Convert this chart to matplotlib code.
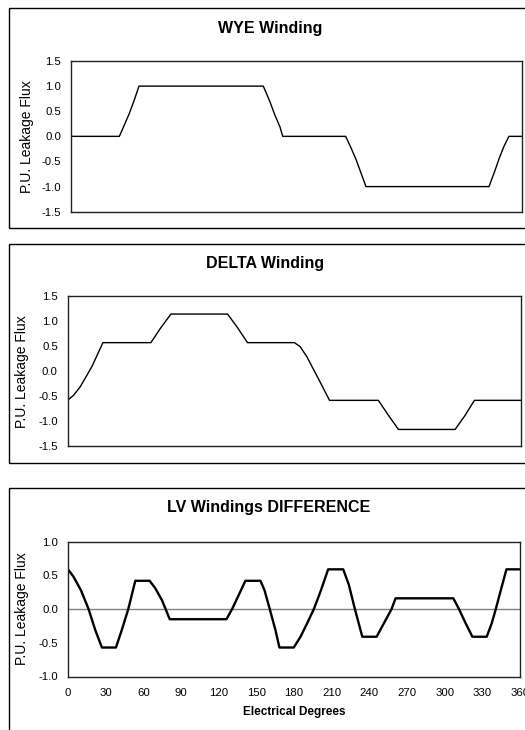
import matplotlib
matplotlib.use("Agg")
import matplotlib.pyplot as plt
from matplotlib.patches import Rectangle

plt.rcParams['font.family'] = ['Liberation Sans', 'DejaVu Sans']
plt.rcParams['axes.unicode_minus'] = False

# ---------------- data ----------------
wye_deg = [0, 38.6, 42.5, 46.5, 50.5, 54.3, 153.6, 158.9, 162.9, 166.9, 169.1,
           219.4, 223.5, 227.5, 231.5, 235.6, 333.9, 338.5, 342.3, 346.0, 349.8, 360]
wye_val = [0, 0, 0.22, 0.45, 0.72, 1.0, 1.0, 0.69, 0.42, 0.19, 0,
           0, -0.22, -0.45, -0.72, -1.0, -1.0, -0.69, -0.42, -0.19, 0, 0]

delta_deg = [0, 4.8, 10.1, 19.3, 28.1, 66.2, 73.6, 82.1, 127.0, 134.4, 142.9,
             180.2, 184.7, 190.0, 199.2, 208.0, 246.8, 254.8, 262.7, 307.7, 315.6, 323.0, 360]
delta_val = [-0.58, -0.48, -0.31, 0.09, 0.57, 0.57, 0.85, 1.14, 1.14, 0.89, 0.57,
             0.57, 0.49, 0.29, -0.15, -0.58, -0.58, -0.88, -1.16, -1.16, -0.88, -0.58, -0.58]

diff_deg = [0, 4.4, 10.3, 16.4, 21.7, 27.0, 38.2, 43.0, 48.0, 53.6, 65.0, 69.5, 74.9, 81.0,
            126.2, 130.7, 136.0, 141.3, 153.3, 156.5, 160.7, 165.2, 168.4, 179.8,
            185.2, 190.5, 195.8, 201.1, 207.2, 219.2, 223.7, 228.5, 234.4, 245.8,
            251.6, 257.7, 260.9, 306.9, 311.4, 316.7, 322.1, 333.5, 337.5, 340.7, 344.7, 349.2, 360]
diff_val = [0.59, 0.48, 0.28, 0.0, -0.31, -0.57, -0.57, -0.30, 0.0, 0.42, 0.42, 0.31, 0.13, -0.15,
            -0.15, 0.0, 0.21, 0.42, 0.42, 0.28, 0.0, -0.31, -0.57, -0.57,
            -0.41, -0.21, 0.0, 0.26, 0.59, 0.59, 0.36, 0.0, -0.41, -0.41,
            -0.21, 0.0, 0.16, 0.16, 0.0, -0.21, -0.41, -0.41, -0.21, 0.0, 0.28, 0.59, 0.59]

titles = ["WYE Winding", "DELTA Winding", "LV Windings DIFFERENCE"]
ylabel = "P.U. Leakage Flux"
xlabel = "Electrical Degrees"
yticks_12 = [-1.5, -1.0, -0.5, 0.0, 0.5, 1.0, 1.5]
yticks_3 = [-1.0, -0.5, 0.0, 0.5, 1.0]
xticks = [0, 30, 60, 90, 120, 150, 180, 210, 240, 270, 300, 330, 360]

# ---------------- layout ----------------
W, H = 525, 730
fig = plt.figure(figsize=(W / 100, H / 100), dpi=100)


def rect(l, t, r, b):
    return [l / W, 1 - b / H, (r - l) / W, (b - t) / H]


def frame(l, t, r, b):
    fig.patches.append(Rectangle((l / W, 1 - b / H), (r - l) / W, (b - t) / H,
                                 transform=fig.transFigure, fill=False,
                                 edgecolor='black', linewidth=1.0, clip_on=False))


frame(9, 8, 540, 228)
frame(9, 244, 540, 463)
frame(9, 488, 540, 760)

specs = [
    dict(r=rect(71, 61, 521.7, 211.7), x=wye_deg, y=wye_val, yt=yticks_12, lw=1.0,
         title_xy=(270.5, 33.3), ylab_x=26.5),
    dict(r=rect(67.5, 296, 521, 446.5), x=delta_deg, y=delta_val, yt=yticks_12, lw=1.0,
         title_xy=(265.5, 268.3), ylab_x=22.5),
    dict(r=rect(68, 541.7, 520, 676.5), x=diff_deg, y=diff_val, yt=yticks_3, lw=1.7,
         title_xy=(268.5, 512.3), ylab_x=22.5),
]

for i, s in enumerate(specs):
    ax = fig.add_axes(s['r'])
    ax.plot(s['x'], s['y'], color='black', linewidth=s['lw'], solid_joinstyle='round')
    ax.set_xlim(0, 360)
    ax.set_ylim(s['yt'][0], s['yt'][-1])
    ax.set_yticks(s['yt'])
    ax.set_yticklabels([f"{v:.1f}" for v in s['yt']])
    ax.tick_params(axis='y', length=0, pad=7, labelsize=8.2, labelcolor='black')
    for sp in ax.spines.values():
        sp.set_color('#222222')
        sp.set_linewidth(1.0)
    if i == 2:
        ax.axhline(0, color='#808080', linewidth=1.0, zorder=1)
        ax.set_xticks(xticks)
        ax.set_xticklabels([str(v) for v in xticks])
        ax.tick_params(axis='x', length=0, pad=8, labelsize=8.2, labelcolor='black')
        ax.set_xlabel(xlabel, fontsize=8.5, fontweight='bold', labelpad=6)
    else:
        ax.set_xticks([])
    tx, ty = s['title_xy']
    fig.text(tx / W, 1 - ty / H, titles[i], ha='center', va='baseline',
             fontsize=11.5, fontweight='bold')
    fig.text(s['ylab_x'] / W, s['r'][1] + s['r'][3] / 2, ylabel, rotation=90,
             ha='center', va='center', fontsize=10)

fig.savefig("out.png", dpi=100)
